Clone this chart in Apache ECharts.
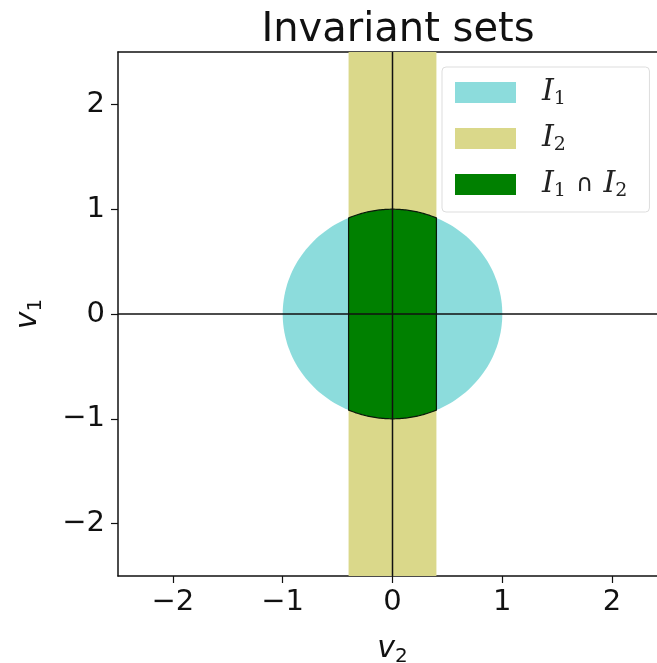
<!DOCTYPE html>
<html>
<head>
<meta charset="utf-8">
<script src="https://cdn.jsdelivr.net/npm/echarts@6/dist/echarts.min.js"></script>
<style>
  html, body { margin: 0; padding: 0; background: #fff; }
  #chart { width: 657px; height: 663px; }
</style>
</head>
<body>
<div id="chart"></div>
<script>
// Set parameters: disc I1 = {v1^2 + v2^2 <= r^2}, strip I2 = {|v2| <= w}
const discRadius = 1.0;
const stripHalfWidth = 0.4;
const axisRange = [-2.5, 2.5];
const xTicks = [-2, -1, 0, 1, 2];
const yTicks = [-2, -1, 0, 1, 2];
const seriesNames = ['I1', 'I2', 'I1nI2'];
const seriesColors = ['#8cdcdc', '#dad88a', '#008000'];

const fmtTick = v => String(v).replace('-', '\u2212');

// Disc outline, sampled in data units
function discPoints(api) {
  const pts = [];
  for (let i = 0; i <= 180; i++) {
    const t = (i / 180) * Math.PI * 2;
    pts.push(api.coord([discRadius * Math.cos(t), discRadius * Math.sin(t)]));
  }
  return pts;
}

// Intersection: strip clipped by disc
function lensPoints(api) {
  const pts = [];
  const n = 60;
  for (let i = 0; i <= n; i++) {
    const x = -stripHalfWidth + (2 * stripHalfWidth * i) / n;
    pts.push(api.coord([x, Math.sqrt(discRadius * discRadius - x * x)]));
  }
  for (let i = 0; i <= n; i++) {
    const x = stripHalfWidth - (2 * stripHalfWidth * i) / n;
    pts.push(api.coord([x, -Math.sqrt(discRadius * discRadius - x * x)]));
  }
  return pts;
}

const chart = echarts.init(document.getElementById('chart'), null, { renderer: 'canvas' });

const mathRich = {
  i: { fontFamily: 'DejaVu Serif', fontStyle: 'italic', fontSize: 30, color: '#222', lineHeight: 20 },
  s: { fontFamily: 'DejaVu Serif', fontSize: 19, color: '#222', lineHeight: 20, padding: [14, 0, 0, 0] },
  c: { fontFamily: 'DejaVu Sans', fontSize: 24, color: '#222', lineHeight: 20, padding: [0, 10, 0, 10] }
};

const axisNameRich = {
  v: { fontFamily: 'DejaVu Sans', fontStyle: 'italic', fontSize: 30, color: '#111' },
  s: { fontFamily: 'DejaVu Sans', fontSize: 20, color: '#111', padding: [16, 0, 0, 0] }
};

chart.setOption({
  animation: false,
  title: {
    text: 'Invariant sets',
    left: 393, top: 6, textAlign: 'center',
    textStyle: { fontFamily: 'DejaVu Sans', fontSize: 40, fontWeight: 'normal', color: '#111' }
  },
  grid: { left: 118, top: 52, width: 549, height: 524, outerBoundsMode: 'none', containLabel: false },
  legend: {
    orient: 'vertical',
    left: 442, top: 67,
    padding: [9, 22, 11, 13],
    backgroundColor: '#fff',
    borderColor: '#dddddd', borderWidth: 1, borderRadius: 4,
    itemWidth: 61, itemHeight: 21, itemGap: 13,
    icon: 'rect',
    data: seriesNames,
    formatter: name => {
      if (name === 'I1') return '{i|I}{s|1}';
      if (name === 'I2') return '{i|I}{s|2}';
      return '{i|I}{s|1}{c|\u2229}{i|I}{s|2}';
    },
    textStyle: { rich: mathRich, padding: [0, 0, 0, 21] }
  },
  xAxis: [{
    type: 'value', min: axisRange[0], max: axisRange[1],
    splitLine: { show: false },
    axisLine: { onZero: false, lineStyle: { color: '#111', width: 1.5 } },
    axisTick: { show: true, length: 7, customValues: xTicks, lineStyle: { color: '#111', width: 1.2 } },
    axisLabel: { customValues: xTicks, formatter: fmtTick, fontFamily: 'DejaVu Sans', fontSize: 29, color: '#111', margin: 12 },
    name: '{v|v}{s|2}', nameLocation: 'middle', nameGap: 55,
    nameTextStyle: { rich: axisNameRich }
  }, {
    // top spine
    type: 'value', position: 'top', min: axisRange[0], max: axisRange[1],
    splitLine: { show: false },
    axisLine: { onZero: false, lineStyle: { color: '#111', width: 1.5 } },
    axisTick: { show: false },
    axisLabel: { show: false }
  }],
  yAxis: {
    type: 'value', min: axisRange[0], max: axisRange[1],
    splitLine: { show: false },
    axisLine: { onZero: false, lineStyle: { color: '#111', width: 1.5 } },
    axisTick: { show: true, length: 7, customValues: yTicks, lineStyle: { color: '#111', width: 1.2 } },
    axisLabel: { customValues: yTicks, formatter: fmtTick, fontFamily: 'DejaVu Sans', fontSize: 29, color: '#111', margin: 13 },
    name: '{v|v}{s|1}', nameLocation: 'middle', nameGap: 72, nameRotate: 90,
    nameTextStyle: { rich: axisNameRich }
  },
  series: [
    {
      name: seriesNames[0], type: 'custom', clip: true, z: 1,
      itemStyle: { color: seriesColors[0] },
      data: [[0, 0]],
      renderItem: (params, api) => ({
        type: 'polygon',
        shape: { points: discPoints(api) },
        style: { fill: seriesColors[0] }
      })
    },
    {
      name: seriesNames[1], type: 'custom', clip: true, z: 2,
      itemStyle: { color: seriesColors[1] },
      data: [[0, 0]],
      renderItem: (params, api) => {
        const p1 = api.coord([-stripHalfWidth, axisRange[1]]);
        const p2 = api.coord([stripHalfWidth, axisRange[0]]);
        return {
          type: 'rect',
          shape: { x: p1[0], y: p1[1], width: p2[0] - p1[0], height: p2[1] - p1[1] },
          style: { fill: seriesColors[1] }
        };
      }
    },
    {
      name: seriesNames[2], type: 'custom', clip: true, z: 3,
      itemStyle: { color: seriesColors[2] },
      data: [[0, 0]],
      renderItem: (params, api) => ({
        type: 'polygon',
        shape: { points: lensPoints(api) },
        style: { fill: seriesColors[2], stroke: '#0a1a0a', lineWidth: 1.2 }
      })
    },
    {
      // Coordinate axes through the origin
      name: 'origin-axes', type: 'custom', clip: true, z: 4,
      data: [[0, 0]],
      renderItem: (params, api) => {
        const h1 = api.coord([axisRange[0], 0]), h2 = api.coord([axisRange[1], 0]);
        const v1 = api.coord([0, axisRange[0]]), v2 = api.coord([0, axisRange[1]]);
        return {
          type: 'group',
          children: [
            { type: 'line', shape: { x1: h1[0], y1: h1[1], x2: h2[0], y2: h2[1] }, style: { stroke: '#111', lineWidth: 1.5 } },
            { type: 'line', shape: { x1: v1[0], y1: v1[1], x2: v2[0], y2: v2[1] }, style: { stroke: '#111', lineWidth: 1.5 } }
          ]
        };
      }
    }
  ]
});
</script>
</body>
</html>
